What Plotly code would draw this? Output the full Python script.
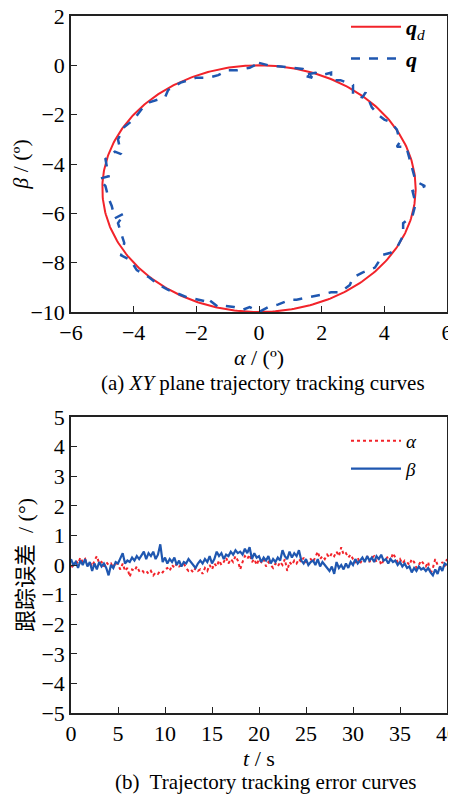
import numpy as np
import plotly.graph_objects as go

# ---------------- data ----------------
# desired trajectory q_d: circle (center, radius) in degrees
qd_center_alpha = 0.0
qd_center_beta = -5.0
qd_radius = 5.0

q_alpha = [0.0, 0.3, 0.7, 1.0, 1.4, 1.7, 1.4, 1.8, 2.0, 2.3, 2.3, 2.6, 2.8, 3.0,
           3.0, 3.3, 3.4, 3.6, 3.8, 4.0, 4.2, 4.4, 4.5, 4.4, 4.7, 4.8, 4.9, 5.0,
           5.3, 4.9, 5.0, 4.9, 4.7, 4.6, 4.6, 4.4, 4.2, 3.9, 3.8, 3.7, 3.3, 3.0,
           2.9, 2.6, 2.3, 2.0, 1.6, 1.2, 1.0, 0.6, 0.3, 0.0, -0.3, -0.5, -0.8,
           -1.1, -1.3, -1.6, -1.6, -2.0, -2.3, -2.5, -2.7, -2.9, -3.2, -3.5, -3.9,
           -4.1, -4.4, -4.3, -4.4, -4.5, -4.3, -4.6, -4.7, -4.8, -4.9, -5.1, -4.8,
           -4.9, -4.6, -4.4, -4.5, -4.3, -4.0, -3.7, -3.5, -3.0, -2.9, -2.5, -2.0,
           -1.6, -1.3, -1.0, -0.7, -0.3, 0.0]
q_beta = [0.1, 0.0, -0.05, -0.1, -0.15, -0.5, -0.4, -0.3, -0.4, -0.3, -0.6, -0.6,
          -0.7, -0.8, -1.2, -1.3, -1.1, -1.7, -2.0, -2.2, -2.3, -2.6, -3.1, -3.3,
          -3.3, -3.8, -4.2, -4.7, -4.9, -5.1, -5.6, -6.1, -6.3, -6.4, -6.9, -7.4,
          -7.6, -7.7, -8.0, -8.2, -8.4, -8.6, -8.9, -9.2, -9.2, -9.3, -9.4, -9.5,
          -9.5, -9.7, -9.8, -10.0, -9.8, -9.9, -9.8, -9.75, -9.8, -9.5, -9.6, -9.5,
          -9.4, -9.3, -9.2, -9.1, -8.9, -8.6, -8.3, -7.9, -7.7, -7.2, -6.8, -6.4,
          -6.0, -6.2, -5.7, -5.4, -4.9, -4.6, -4.5, -3.8, -3.5, -3.6, -3.0, -2.5,
          -2.2, -1.7, -1.5, -1.3, -1.0, -0.7, -0.5, -0.5, -0.4, -0.2, -0.2, -0.1, 0.1]

# tracking errors (degrees) sampled every 0.25 s from 0 to 40 s
err_alpha = [0.0, -0.1, 0.15, 0.05, 0.25, 0.1, 0.2, 0.0, 0.1,
             -0.05, 0.15, 0.3, 0.05, 0.1, -0.05, 0.1, 0.0,
             0.05, -0.1, 0.1, 0.0, -0.15, 0.05, -0.2, -0.1,
             -0.4, -0.15, -0.2, -0.05, -0.2, -0.15, -0.25, -0.2,
             -0.3, -0.2, -0.35, -0.25, -0.3, -0.2, -0.25, -0.15,
             -0.1, -0.2, 0.0, -0.1, 0.05, -0.05, 0.0, 0.05,
             -0.1, -0.2, -0.15, -0.25, -0.1, -0.2, -0.15, -0.3,
             -0.1, -0.2, 0.0, -0.15, 0.05, -0.05, 0.15, 0.0,
             0.1, 0.25, 0.05, 0.2, 0.1, 0.3, 0.15, -0.15,
             0.1, 0.3, 0.2, 0.35, 0.1, 0.2, 0.0, 0.2,
             0.1, 0.2, -0.05, 0.1, 0.0, -0.1, 0.05, -0.05,
             0.1, 0.0, 0.2, -0.2, 0.1, 0.0, 0.15, 0.05,
             0.2, 0.1, 0.25, 0.1, 0.15, 0.2, 0.1, 0.25,
             0.45, 0.2, 0.3, 0.2, 0.35, 0.25, 0.4, 0.3,
             0.45, 0.3, 0.6, 0.35, 0.4, 0.25, 0.35, 0.2,
             0.1, 0.25, 0.05, 0.2, 0.15, 0.3, 0.1, 0.25,
             0.3, 0.1, 0.25, 0.0, 0.15, 0.2, 0.3, 0.15,
             0.4, 0.25, 0.1, 0.2, 0.05, 0.15, 0.1, 0.0,
             0.2, 0.1, -0.1, 0.0, 0.15, 0.05, -0.05, 0.1,
             -0.3, -0.1, 0.2, 0.0, -0.1, 0.1, -0.05, 0.2]
err_beta = [0.2, 0.0, 0.1, -0.1, 0.15, 0.0, 0.2, -0.05, 0.1,
            -0.2, 0.05, -0.15, 0.1, -0.05, 0.05, -0.1, -0.35,
            0.0, -0.1, 0.1, 0.05, 0.2, 0.4, 0.05, 0.15,
            0.1, 0.25, 0.15, 0.3, 0.2, 0.35, 0.45, 0.2,
            0.4, 0.3, 0.45, 0.2, 0.35, 0.7, 0.1, 0.25,
            0.05, 0.2, 0.1, 0.25, 0.0, 0.15, -0.05, 0.1,
            0.05, 0.2, 0.1, 0.0, -0.1, 0.05, 0.15, 0.05,
            0.2, 0.1, 0.3, 0.05, 0.2, 0.45, 0.3, 0.4,
            0.2, 0.35, 0.3, 0.45, 0.35, 0.5, 0.4, 0.45,
            0.35, 0.55, 0.4, 0.6, 0.2, 0.4, 0.25, 0.3,
            0.1, 0.25, 0.15, 0.3, 0.05, 0.2, 0.1, 0.25,
            0.15, 0.5, 0.3, 0.2, 0.45, 0.25, 0.4, 0.3,
            0.5, 0.15, 0.05, 0.2, 0.0, 0.1, 0.15, 0.0,
            0.2, -0.05, 0.1, 0.0, -0.1, -0.2, -0.05, -0.3,
            0.1, -0.1, 0.0, -0.15, 0.05, -0.1, 0.1, 0.0,
            0.2, 0.05, 0.15, 0.25, 0.1, 0.3, 0.15, 0.25,
            0.1, 0.3, 0.2, 0.35, 0.15, 0.2, 0.05, 0.2,
            0.1, 0.15, 0.0, 0.1, -0.05, 0.05, -0.1, -0.05,
            -0.25, -0.1, -0.2, -0.05, -0.15, -0.1, -0.2, -0.1,
            -0.25, -0.35, -0.15, -0.3, -0.05, -0.2, 0.05, 0.0]
t_end = 40.0
t = np.linspace(0, t_end, len(err_alpha))

theta = np.linspace(0, 2 * np.pi, 361)
qd_alpha = qd_center_alpha + qd_radius * np.sin(theta)
qd_beta = qd_center_beta + qd_radius * np.cos(theta)

# ---------------- style ----------------
RED = "#f2232a"
BLUE = "#1f57b0"
FONT = "Liberation Serif, Times New Roman, Noto Sans CJK SC, serif"
TICKFONT = dict(family=FONT, size=22, color="black")
TITLEFONT = dict(family=FONT, size=22, color="black")

fig = go.Figure()
fig.add_trace(go.Scatter(x=qd_alpha, y=qd_beta, mode="lines",
                         line=dict(color=RED, width=2),
                         name="<b><i>q</i></b><sub><i>d</i></sub>",
                         xaxis="x", yaxis="y", legend="legend"))
fig.add_trace(go.Scatter(x=q_alpha, y=q_beta, mode="lines",
                         line=dict(color=BLUE, width=2.5, dash="dash"),
                         name="<b><i>q</i></b>",
                         xaxis="x", yaxis="y", legend="legend"))
fig.add_trace(go.Scatter(x=t, y=err_alpha, mode="lines",
                         line=dict(color=RED, width=2, dash="dot"),
                         name="<i>α</i>", xaxis="x2", yaxis="y2", legend="legend2"))
fig.add_trace(go.Scatter(x=t, y=err_beta, mode="lines",
                         line=dict(color=BLUE, width=2.2),
                         name="<i>β</i>", xaxis="x2", yaxis="y2", legend="legend2"))

# page is 456x794; the browser body adds an 8px margin around the figure
PAGE_W, PAGE_H, OFF = 456, 794, 8
W, H = PAGE_W - OFF, PAGE_H - OFF
# plot area in page pixels: x 71..447, y 16..713
ML = 71 - OFF
MT = 16 - OFF
MR = W - (447 - OFF)
MB = H - (713 - OFF)
PW, PH = W - ML - MR, H - MT - MB

def fx(p):
    """page pixel x -> paper fraction"""
    return (p - OFF - ML) / PW

def fy(p):
    """page pixel y -> paper fraction"""
    return (H - MB - (p - OFF)) / PH

axis_common = dict(showline=True, linecolor="#222", linewidth=1.5, mirror=True,
                   ticks="inside", ticklen=6, tickwidth=1.2, tickcolor="#222",
                   showgrid=False, zeroline=False, tickfont=TICKFONT,
                   automargin=False, ticklabeloverflow="allow")

fig.update_layout(
    width=W, height=H,
    margin=dict(l=ML, r=MR, t=MT, b=MB, autoexpand=False),
    paper_bgcolor="white", plot_bgcolor="white",
    font=dict(family=FONT, size=22, color="black"),
    xaxis=dict(domain=[0, 1], anchor="y", range=[-6, 6], dtick=2,
               title=dict(text="<i>α</i> / (º)", font=TITLEFONT, standoff=0),
               **axis_common),
    yaxis=dict(domain=[fy(312), 1], anchor="x", range=[-10, 2], dtick=2,
               title=dict(text="<i>β</i> / (º)", font=TITLEFONT, standoff=0),
               **axis_common),
    xaxis2=dict(domain=[0, 1], anchor="y2", range=[0, 40], dtick=5,
                title=dict(text="<i>t</i> / s", font=TITLEFONT, standoff=0),
                **axis_common),
    yaxis2=dict(domain=[0, fy(417)], anchor="x2", range=[-5, 5], dtick=1,
                title=dict(text="跟踪误差  / (°)", font=TITLEFONT, standoff=2),
                **axis_common),
    legend=dict(x=fx(346), y=fy(6), xanchor="left", yanchor="top",
                bgcolor="rgba(0,0,0,0)", font=dict(family=FONT, size=22),
                tracegroupgap=0, itemwidth=50),
    legend2=dict(x=fx(346), y=fy(422), xanchor="left", yanchor="top",
                 bgcolor="rgba(0,0,0,0)", font=dict(family=FONT, size=19),
                 tracegroupgap=0, itemwidth=50),
    annotations=[
        dict(text="(a) <i>XY</i> plane trajectory tracking curves",
             x=fx(263), y=fy(383), xref="paper", yref="paper",
             xanchor="center", yanchor="middle",
             showarrow=False, font=dict(family=FONT, size=21)),
        dict(text="(b)  Trajectory tracking error curves",
             x=fx(265), y=fy(782), xref="paper", yref="paper",
             xanchor="center", yanchor="middle",
             showarrow=False, font=dict(family=FONT, size=21)),
    ],
)

fig.write_html("out.html")
